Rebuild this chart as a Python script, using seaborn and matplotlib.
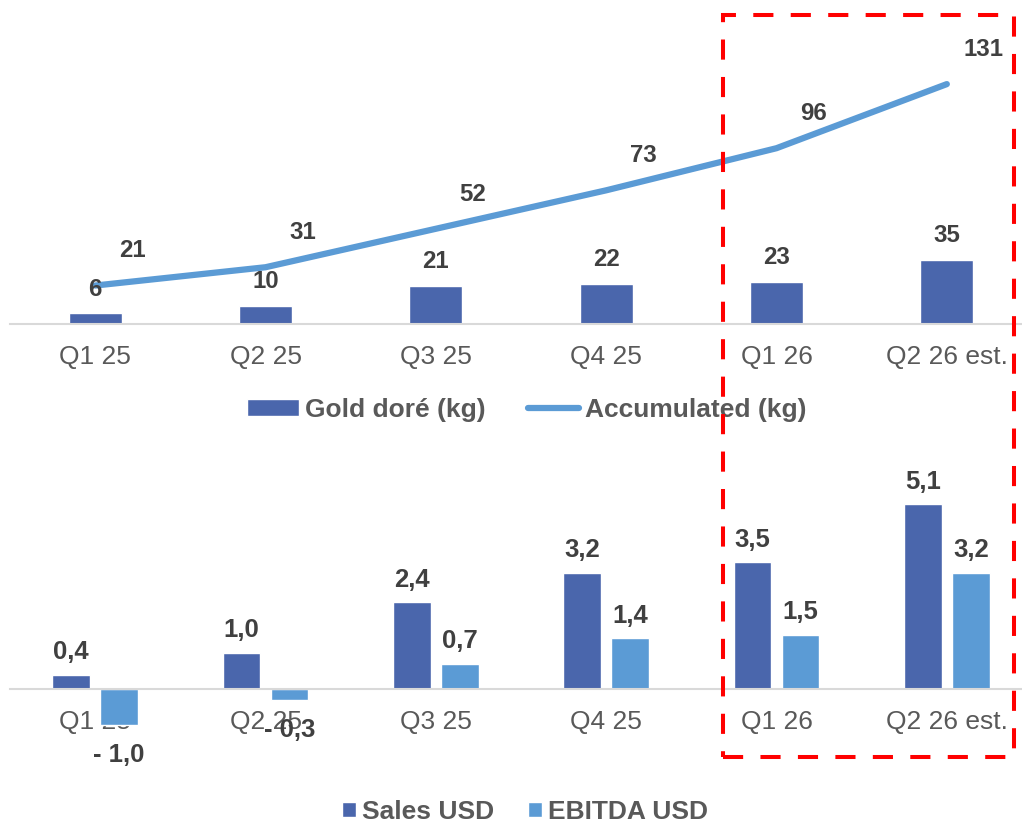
import matplotlib
matplotlib.use("Agg")
import numpy as np
import pandas as pd
import matplotlib.pyplot as plt
import seaborn as sns
from matplotlib.patches import Patch, Rectangle
from matplotlib.lines import Line2D

# data
quarters = ["Q1 25", "Q2 25", "Q3 25", "Q4 25", "Q1 26", "Q2 26 est."]
gold_kg = [6, 10, 21, 22, 23, 35]
accum_kg = [21, 31, 52, 73, 96, 131]
sales_usd = [0.4, 1.0, 2.4, 3.2, 3.5, 5.1]
ebitda_usd = [-1.0, -0.3, 0.7, 1.4, 1.5, 3.2]

DARK = "#4A66AC"
LIGHT = "#5B9BD5"
LABEL_C = "#404040"
TICK_C = "#595959"
AXIS_C = "#D9D9D9"

sns.set_theme(style="white")
plt.rcParams["font.family"] = ["Liberation Sans", "DejaVu Sans"]

W, H = 1022, 823
fig = plt.figure(figsize=(W / 100, H / 100), dpi=100)
ax_top = fig.add_axes([10 / W, 1 - 324 / H, 1.0, 293 / H])
ax_bot = fig.add_axes([10 / W, 1 - 743.5 / H, 1.0, 272.25 / H])


def fmt_usd(v):
    s = f"{abs(v):.1f}".replace(".", ",")
    return f"- {s}" if v < 0 else s


def label_bars(ax, bars, values, texts, size, pad_up, pad_down):
    for bar, v, t in zip(bars, values, texts):
        x = bar.get_x() + bar.get_width() / 2
        end = bar.get_y() + bar.get_height()
        up = v >= 0
        ax.annotate(t, (x, end), xytext=(0, pad_up if up else -pad_down),
                    textcoords="offset points", ha="center",
                    va="bottom" if up else "top", fontsize=size,
                    fontweight="bold", color=LABEL_C)


# --- top panel: gold doré + accumulated line
sns.barplot(x=quarters, y=gold_kg, color=DARK, saturation=1, width=0.31,
            ax=ax_top)
sns.lineplot(x=quarters, y=accum_kg, sort=False, color=LIGHT, lw=4.5,
             solid_capstyle="round", ax=ax_top)
label_bars(ax_top, ax_top.containers[0], gold_kg, [str(v) for v in gold_kg],
           17.3, 9, 9)
# labels of the accumulated line sit up and to the right of each point
for i, v in enumerate(accum_kg):
    ax_top.annotate(str(v), (i, v), xytext=(26.6, 25),
                    textcoords="offset points", ha="center", va="center",
                    fontsize=17.3, fontweight="bold", color=LABEL_C,
                    annotation_clip=False)
ax_top.set_ylim(0, 160)

# --- bottom panel: sales and EBITDA
df = pd.DataFrame({
    "quarter": quarters * 2,
    "metric": ["Sales USD"] * len(quarters) + ["EBITDA USD"] * len(quarters),
    "value": sales_usd + ebitda_usd,
})
sns.barplot(data=df, x="quarter", y="value", hue="metric",
            palette=[DARK, LIGHT], saturation=1, width=0.563, gap=0.21,
            legend=False, ax=ax_bot)
for cont, vals in zip(ax_bot.containers, [sales_usd, ebitda_usd]):
    label_bars(ax_bot, cont, vals, [fmt_usd(v) for v in vals], 18.5, 7.5, 13)
ax_bot.set_ylim(-1.5, 6)

for ax in (ax_top, ax_bot):
    ax.set_facecolor("none")
    ax.set_xlim(-0.5, len(quarters) - 0.5)
    for s in ("left", "right", "top"):
        ax.spines[s].set_visible(False)
    ax.spines["bottom"].set_color(AXIS_C)
    ax.spines["bottom"].set_linewidth(1.5)
    ax.spines["bottom"].set_position(("data", 0))
    ax.set_yticks([])
    ax.set_xlabel("")
    ax.set_ylabel("")
    ax.tick_params(axis="x", length=0, pad=15, labelsize=19,
                   labelcolor=TICK_C)

# legends
fig.legend(handles=[Patch(facecolor=DARK),
                    Line2D([0], [0], color=LIGHT, lw=4.5,
                           solid_capstyle="round")],
           labels=["Gold doré (kg)", "Accumulated (kg)"],
           loc="center", bbox_to_anchor=(527 / W, 1 - 410 / H), ncol=2,
           frameon=False, prop={"weight": "bold", "size": 19},
           labelcolor=TICK_C, handlelength=1.95, handleheight=0.6,
           handletextpad=0.23, columnspacing=1.6)
fig.legend(handles=[Patch(facecolor=DARK), Patch(facecolor=LIGHT)],
           labels=["Sales USD", "EBITDA USD"],
           loc="center", bbox_to_anchor=(525 / W, 1 - 812 / H), ncol=2,
           frameon=False, prop={"weight": "bold", "size": 19},
           labelcolor=TICK_C, handlelength=0.53, handleheight=0.53,
           handletextpad=0.23, columnspacing=1.3)

# red dashed highlight box
box = Rectangle((723 / W, 1 - 757 / H), 291 / W, 742 / H,
                transform=fig.transFigure, fill=False, edgecolor="#FF0000",
                linewidth=2.9, linestyle=(0, (5, 4.3)), zorder=10)
fig.add_artist(box)

fig.savefig("out.png", dpi=100)
